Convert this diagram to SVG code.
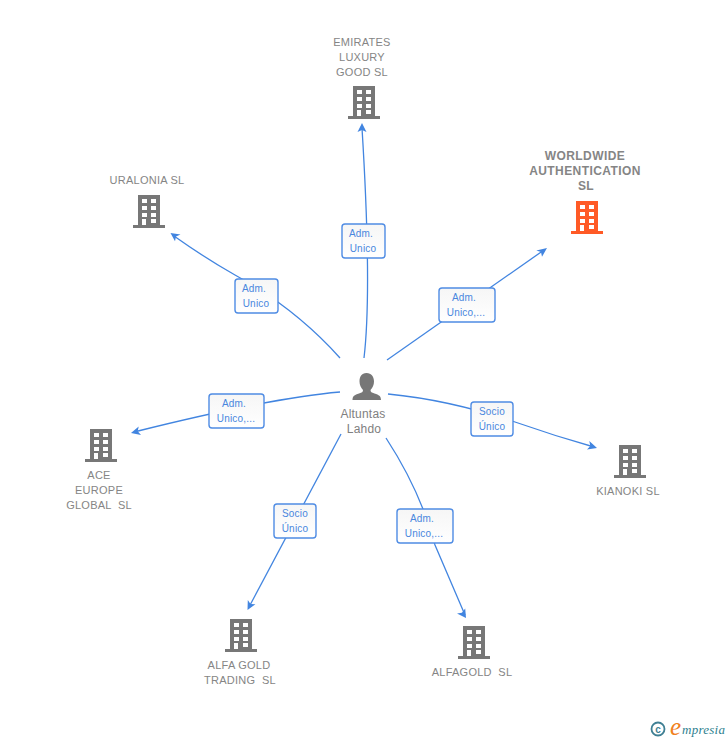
<svg xmlns="http://www.w3.org/2000/svg" width="728" height="740" viewBox="0 0 728 740">
<style>
.c{fill:none;stroke:#4285e0;stroke-width:1.3}
.h{fill:#4285e0}
.b{fill:url(#bg);stroke:#4f8ce4;stroke-width:1.4}
.bl{font:10px "Liberation Sans",Arial,sans-serif;fill:#4a87de;text-anchor:middle;letter-spacing:.2px}
.l{font:11px "Liberation Sans",Arial,sans-serif;fill:#858585;text-anchor:middle;letter-spacing:.25px;white-space:pre}
.lb{font:bold 12px "Liberation Sans",Arial,sans-serif;fill:#858585;text-anchor:middle;letter-spacing:.42px}
.p{font:12px "Liberation Sans",Arial,sans-serif;fill:#808080;text-anchor:middle;letter-spacing:.2px}
</style>
<defs>
<linearGradient id="bg" x1="0" y1="0" x2="0" y2="1"><stop offset="0" stop-color="#f6f6f6"/><stop offset="1" stop-color="#fff"/></linearGradient>
<g id="bld">
<path fill-rule="evenodd" d="M-11-16.500H11V13.500H16V16.500H-16V13.500H-11ZM-7-12.500V-8.500H-2V-12.500ZM2-12.500V-8.500H7V-12.500ZM-7-5.500V-1.500H-2V-5.500ZM2-5.500V-1.500H7V-5.500ZM-7 1.500V5.500H-2V1.500ZM2 1.500V5.500H7V1.500ZM-7 7.500V13.500H-3V7.500ZM2 7.500V11.500H7V7.500Z"/>
</g>
</defs>
<g id="connectors">
<path class="c" d="M364 358Q372 290 362 128"/><path class="h" d="M362 123l4.500 9-4.500-2-4.500 2z"/>
<path class="c" d="M340 358Q295 308 235 275Q205 258 174 236"/><path class="h" d="M170.500 233l10 1.500-4.500 2-1 4.800z"/>
<path class="c" d="M387 360L544 250"/><path class="h" d="M547 248l-5 8.800-1-4.800-4.700-1.500z"/>
<path class="c" d="M340 392Q270 398 134 432"/><path class="h" d="M131 433l7.700-6.500-1 4.800 3.300 3.800z"/>
<path class="c" d="M388 394Q450 400 515 422Q555 436 594 447"/><path class="h" d="M597 448l-10 1.600 3.300-3.600-1-4.900z"/>
<path class="c" d="M341 434L249 607"/><path class="h" d="M247.500 610l.3-10 2.700 4.100 4.900.2z"/>
<path class="c" d="M386 438Q420 490 435 545L465 615"/><path class="h" d="M466 618l-9-4.500 4.900-.7 3.300-4.300z"/>
</g>
<g id="edge-labels">
<rect class="b" x="342" y="224" width="43" height="34" rx="3"/><text class="bl" x="361" y="237">Adm.</text><text class="bl" x="363" y="252">Unico</text>
<rect class="b" x="235" y="279" width="43" height="34" rx="3"/><text class="bl" x="254" y="292">Adm.</text><text class="bl" x="256" y="307">Unico</text>
<rect class="b" x="439" y="288" width="56" height="34" rx="3"/><text class="bl" x="464" y="301">Adm.</text><text class="bl" x="466" y="316">Unico,...</text>
<rect class="b" x="209" y="394" width="55" height="34" rx="3"/><text class="bl" x="234" y="407">Adm.</text><text class="bl" x="236" y="422">Unico,...</text>
<rect class="b" x="471" y="402" width="42" height="34" rx="3"/><text class="bl" x="492" y="415">Socio</text><text class="bl" x="492" y="430">Único</text>
<rect class="b" x="274" y="504" width="42" height="34" rx="3"/><text class="bl" x="295" y="517">Socio</text><text class="bl" x="295" y="532">Único</text>
<rect class="b" x="397" y="509" width="56" height="34" rx="3"/><text class="bl" x="422" y="522">Adm.</text><text class="bl" x="424" y="537">Unico,...</text>
</g>
<g id="person">
<path fill="#777" d="M366.500 373c5 0 7.500 4 7.500 8.500c0 3.500-1.500 6.500-3.500 8.500c0 2 1 2.500 4 3.500c4.500 1.500 6.500 2.500 6.500 6.500H352.500c0-4 2-5 6.500-6.500c3-1 4-1.500 4-3.500c-2-2-3.500-5-3.500-8.500c0-4.500 2-8.500 7-8.500z"/>
<text class="p" x="363" y="418">Altuntas</text><text class="p" x="364" y="433">Lahdo</text>
</g>
<g id="emirates" fill="#777"><use href="#bld" x="364" y="102.500"/>
<text class="l" x="362" y="46">EMIRATES</text><text class="l" x="362" y="61">LUXURY</text><text class="l" x="362" y="76">GOOD SL</text></g>
<g id="uralonia" fill="#777"><use href="#bld" x="149" y="211.500"/>
<text class="l" x="147" y="184">URALONIA SL</text></g>
<g id="worldwide" fill="#ff5a26"><use href="#bld" x="587" y="217.500"/>
<text class="lb" x="585" y="160">WORLDWIDE</text><text class="lb" x="585" y="175">AUTHENTICATION</text><text class="lb" x="586" y="190">SL</text></g>
<g id="ace" fill="#777"><use href="#bld" x="101" y="445.500"/>
<text class="l" x="99" y="479">ACE</text><text class="l" x="99" y="494">EUROPE</text><text class="l" x="99" y="509">GLOBAL  SL</text></g>
<g id="kianoki" fill="#777"><use href="#bld" x="630" y="461.500"/>
<text class="l" x="628" y="495">KIANOKI SL</text></g>
<g id="alfagoldtrading" fill="#777"><use href="#bld" x="241" y="635.500"/>
<text class="l" x="239" y="669">ALFA GOLD</text><text class="l" x="240" y="684">TRADING  SL</text></g>
<g id="alfagold" fill="#777"><use href="#bld" x="474" y="642.500"/>
<text class="l" x="472" y="676">ALFAGOLD  SL</text></g>
<g id="brand">
<circle cx="658" cy="729" r="6.500" fill="none" stroke="#3f7f93" stroke-width="1.800"/>
<text x="658" y="732.500" font-family="Liberation Sans, sans-serif" font-size="10" font-weight="bold" fill="#3f7f93" text-anchor="middle">c</text>
<text x="670" y="735" font-family="Liberation Serif, serif" font-style="italic" font-size="25" fill="#f08020">e</text>
<text x="682" y="734" font-family="Liberation Serif, serif" font-style="italic" font-size="13" fill="#2f7f8f" textLength="43">mpresia</text>
</g>
</svg>
